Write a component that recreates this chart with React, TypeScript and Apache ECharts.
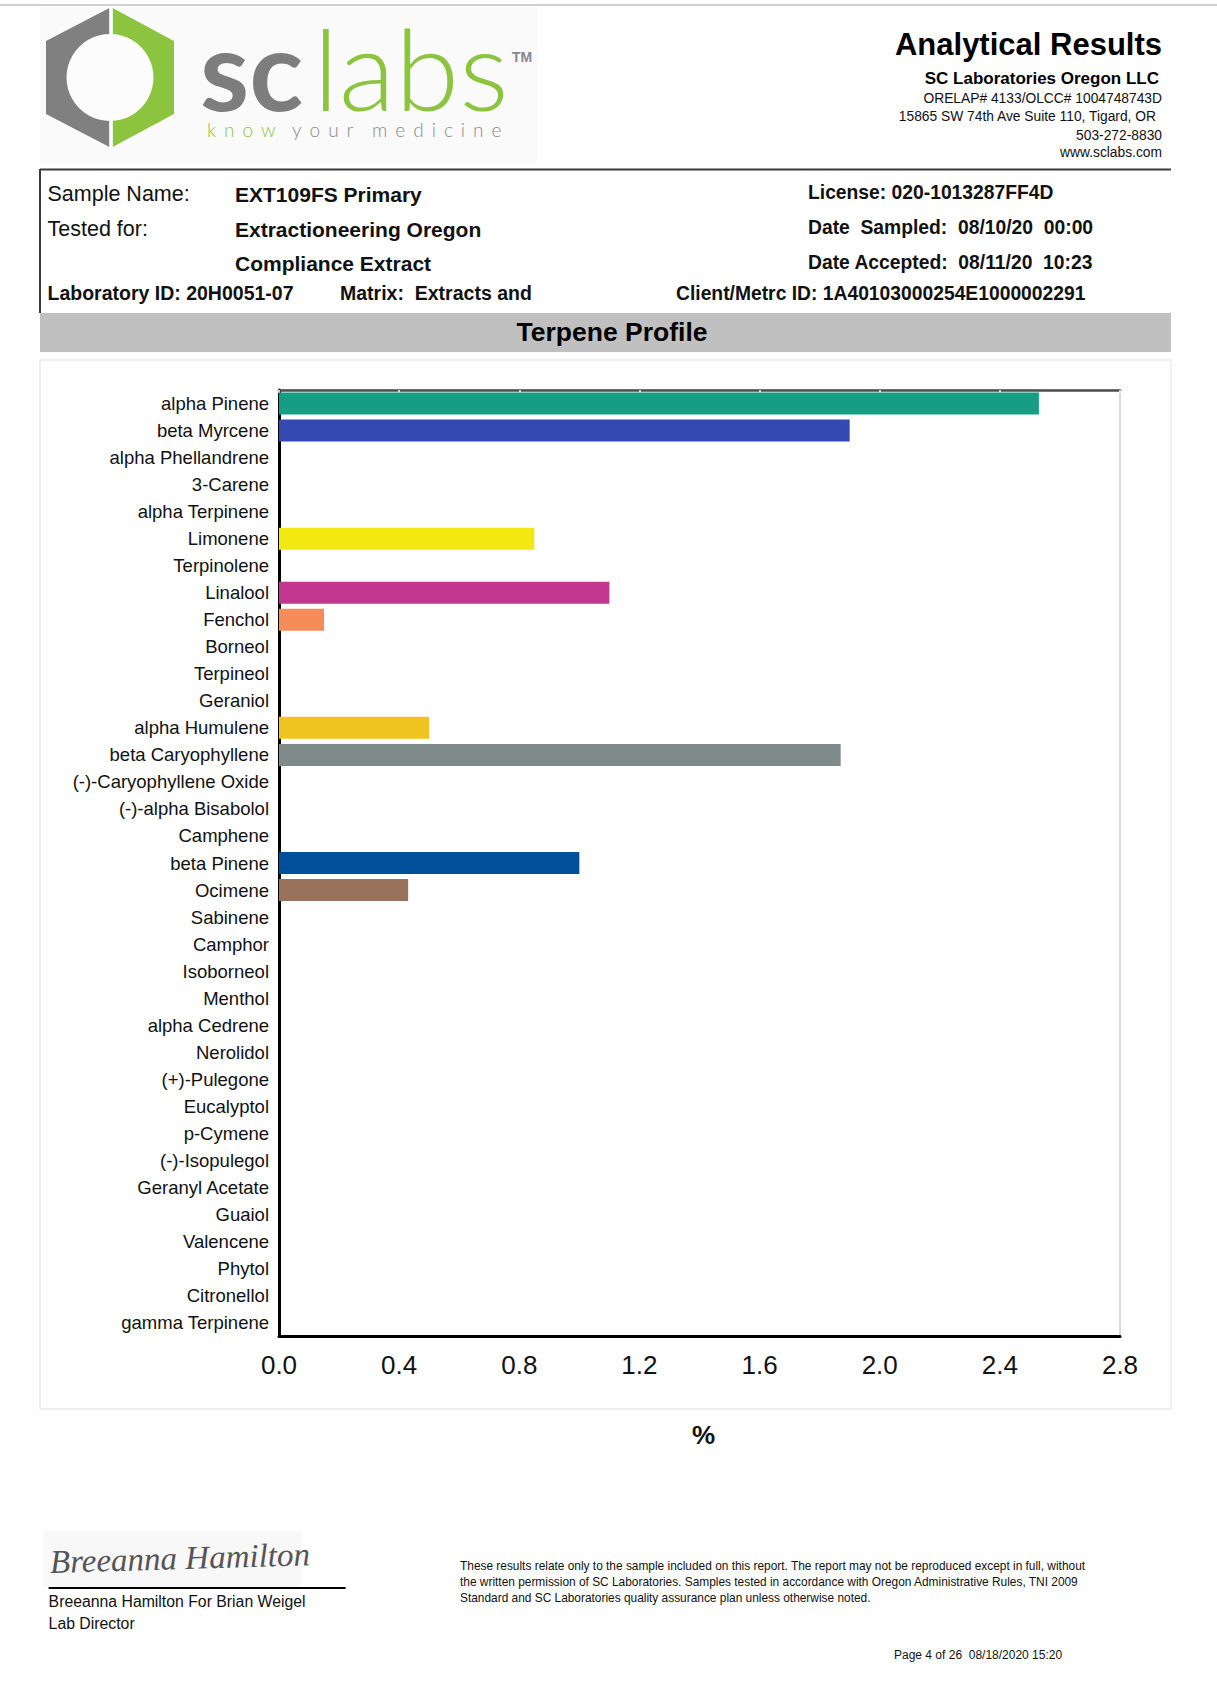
import React, { useEffect, useRef } from "react";
import * as echarts from "echarts";

// ---------- DATA ----------
const categories = [
  "alpha Pinene", "beta Myrcene", "alpha Phellandrene", "3-Carene", "alpha Terpinene",
  "Limonene", "Terpinolene", "Linalool", "Fenchol", "Borneol", "Terpineol", "Geraniol",
  "alpha Humulene", "beta Caryophyllene", "(-)-Caryophyllene Oxide", "(-)-alpha Bisabolol",
  "Camphene", "beta Pinene", "Ocimene", "Sabinene", "Camphor", "Isoborneol", "Menthol",
  "alpha Cedrene", "Nerolidol", "(+)-Pulegone", "Eucalyptol", "p-Cymene", "(-)-Isopulegol",
  "Geranyl Acetate", "Guaiol", "Valencene", "Phytol", "Citronellol", "gamma Terpinene",
];
const values = [
  2.53, 1.90, 0, 0, 0,
  0.85, 0, 1.10, 0.15, 0, 0, 0,
  0.50, 1.87, 0, 0,
  0, 1.00, 0.43, 0, 0, 0, 0,
  0, 0, 0, 0, 0, 0,
  0, 0, 0, 0, 0, 0,
];
const barColors = [
  "#169e84", "#3549b3", "#999", "#999", "#999",
  "#f3e80f", "#999", "#c43791", "#f58d5b", "#999", "#999", "#999",
  "#efc420", "#7f8a8b", "#999", "#999",
  "#999", "#004f9a", "#98725b", "#999", "#999", "#999", "#999",
  "#999", "#999", "#999", "#999", "#999", "#999",
  "#999", "#999", "#999", "#999", "#999", "#999",
];
const xMin = 0;
const xMax = 2.8;
const xInterval = 0.4;

const headerRight = [
  "ORELAP# 4133/OLCC# 1004748743D",
  "15865 SW 74th Ave Suite 110, Tigard, OR",
  "503-272-8830",
  "www.sclabs.com",
];
const disclaimer = [
  "These results relate only to the sample included on this report. The report may not be reproduced except in full, without",
  "the written permission of SC Laboratories. Samples tested in accordance with Oregon Administrative Rules, TNI 2009",
  "Standard and SC Laboratories quality assurance plan unless otherwise noted.",
];

const FONT = "Liberation Sans, Arial, sans-serif";

function txt(x: number, y: number, text: string, o: any = {}) {
  const align = o.align || "left";
  return {
    type: "text",
    x,
    y,
    z: 10,
    rotation: o.rotation || 0,
    scaleX: o.scaleX || 1,
    style: {
      text,
      fill: o.fill || "#111",
      fontSize: o.size || 14,
      fontWeight: o.weight || "normal",
      fontStyle: o.style || "normal",
      fontFamily: o.family || FONT,
      align,
      textAlign: align,
      verticalAlign: "middle",
      textVerticalAlign: "middle",
    },
  };
}

function spaced(str: string, x0: number, y: number, spacing: number, size: number, weight: string, family: string, fill: string) {
  const c = document.createElement("canvas").getContext("2d") as CanvasRenderingContext2D;
  c.font = `${weight} ${size}px ${family}`;
  const out: any[] = [];
  let x = x0;
  for (const ch of str) {
    out.push(txt(x, y, ch, { size, weight, family, fill }));
    x += c.measureText(ch).width + spacing;
  }
  return out;
}

export default function App() {
  const ref = useRef<HTMLDivElement>(null);

  useEffect(() => {
    document.body.style.margin = "0";
    document.body.style.overflow = "hidden";
    if (!ref.current) return;
    const chart = echarts.init(ref.current, null, { renderer: "svg" });

    const hexCx = 111;
    const graphics: any[] = [
      // top thin line
      { type: "line", z: 1, shape: { x1: 0, y1: 5, x2: 1217, y2: 5 }, style: { stroke: "#cfcfcf", lineWidth: 2 } },
      // logo background
      { type: "rect", z: 0, shape: { x: 40, y: 7, width: 497, height: 157 }, style: { fill: "#fafafa" } },
      // hexagon halves
      {
        type: "polygon", z: 2,
        shape: { points: [[hexCx - 1.6, 8], [46, 41], [46, 114], [hexCx - 1.6, 147]] },
        style: { fill: "#808080" },
      },
      {
        type: "polygon", z: 2,
        shape: { points: [[hexCx + 1.6, 8], [174, 41], [174, 114], [hexCx + 1.6, 147]] },
        style: { fill: "#8cc43f" },
      },
      { type: "circle", z: 3, shape: { cx: 110, cy: 77.5, r: 43.5 }, style: { fill: "#fcfcfc" } },
      { type: "rect", z: 3, shape: { x: hexCx - 1.6, y: 6, width: 3.2, height: 143 }, style: { fill: "#fcfcfc" } },
      txt(200, 67.7, "sc", { size: 112, weight: "bold", family: "Lato, sans-serif", fill: "#7d7d7d" }),
      txt(313, 67.7, "labs", { size: 112, weight: 300, family: "Lato, sans-serif", fill: "#8cc43f", scaleX: 1.04 }),
      txt(512, 57, "TM", { size: 14, weight: "bold", family: FONT, fill: "#888" }),
      ...spaced("know", 207, 129, 8, 19, "300", "Lato", "#8cc43f"),
      ...spaced("your", 292, 129, 8, 19, "300", "Lato", "#8a8a8a"),
      ...spaced("medicine", 372, 129, 8, 19, "300", "Lato", "#8a8a8a"),

      // header right
      txt(1162, 44, "Analytical Results", { size: 31, weight: "bold", align: "right", fill: "#000" }),
      txt(1159, 78, "SC Laboratories Oregon LLC", { size: 17, weight: "bold", align: "right", fill: "#000" }),
      txt(1162, 98, headerRight[0], { size: 13.8, align: "right" }),
      txt(1156, 116.5, headerRight[1], { size: 13.8, align: "right" }),
      txt(1162, 135, headerRight[2], { size: 13.8, align: "right" }),
      txt(1162, 152, headerRight[3], { size: 13.8, align: "right" }),

      // info box
      { type: "line", z: 5, shape: { x1: 40, y1: 169.5, x2: 1171, y2: 169.5 }, style: { stroke: "#3a3a3a", lineWidth: 2 } },
      { type: "line", z: 5, shape: { x1: 40, y1: 169, x2: 40, y2: 313 }, style: { stroke: "#3a3a3a", lineWidth: 2 } },
      txt(47.5, 194, "Sample Name:", { size: 21.5 }),
      txt(235, 194, "EXT109FS Primary", { size: 21, weight: "bold" }),
      txt(47.5, 229, "Tested for:", { size: 21.5 }),
      txt(235, 229, "Extractioneering Oregon", { size: 21, weight: "bold" }),
      txt(235, 263.5, "Compliance Extract", { size: 21, weight: "bold" }),
      txt(47.5, 293, "Laboratory ID: 20H0051-07", { size: 19.5, weight: "bold" }),
      txt(340, 293, "Matrix:  Extracts and", { size: 19.5, weight: "bold" }),
      txt(808, 192, "License: 020-1013287FF4D", { size: 19.3, weight: "bold" }),
      txt(808, 227.5, "Date  Sampled:  08/10/20  00:00", { size: 19.3, weight: "bold" }),
      txt(808, 262, "Date Accepted:  08/11/20  10:23", { size: 19.3, weight: "bold" }),
      txt(676, 293, "Client/Metrc ID: 1A40103000254E1000002291", { size: 19.3, weight: "bold" }),

      // section band
      { type: "rect", z: 1, shape: { x: 40, y: 313, width: 1131, height: 39 }, style: { fill: "#c0c0c0" } },
      txt(612, 332, "Terpene Profile", { size: 26.5, weight: "bold", align: "center", fill: "#000" }),

      // chart panel border
      { type: "rect", z: -1, shape: { x: 40, y: 360, width: 1131, height: 1049 }, style: { fill: "#fff", stroke: "#ececec", lineWidth: 1.5 } },

      // signature
      { type: "rect", z: 0, shape: { x: 43, y: 1531, width: 259, height: 56 }, style: { fill: "#f8f8f8" } },
      txt(50, 1562, "Breeanna Hamilton", { size: 33, style: "italic", family: "Liberation Serif, serif", fill: "#555", rotation: 0.03 }),
      { type: "line", z: 5, shape: { x1: 48.6, y1: 1588, x2: 345.6, y2: 1588 }, style: { stroke: "#000", lineWidth: 2 } },
      txt(48.6, 1601.5, "Breeanna Hamilton For Brian Weigel", { size: 15.8 }),
      txt(48.6, 1623, "Lab Director", { size: 15.8 }),
      txt(460, 1566, disclaimer[0], { size: 11.9 }),
      txt(460, 1582, disclaimer[1], { size: 11.9 }),
      txt(460, 1598, disclaimer[2], { size: 11.9 }),
      txt(894, 1654.5, "Page 4 of 26  08/18/2020 15:20", { size: 12 }),
    ];

    chart.setOption({
      animation: false,
      backgroundColor: "#fff",
      textStyle: { fontFamily: FONT },
      graphic: graphics,
      grid: {
        left: 279, top: 390, width: 841, height: 946,
        show: true, borderColor: "#dadada", borderWidth: 2, backgroundColor: "#fff",
        containLabel: false,
      },
      xAxis: [
        {
          type: "value", min: xMin, max: xMax, interval: xInterval, position: "bottom",
          axisLine: { show: true, lineStyle: { color: "#000", width: 3 } },
          axisTick: { show: false },
          splitLine: { show: false },
          axisLabel: {
            fontSize: 26, color: "#111", margin: 16, fontFamily: FONT,
            formatter: (v: number) => v.toFixed(1),
          },
          name: "%", nameLocation: "middle", nameGap: 86,
          nameTextStyle: { fontSize: 26, fontWeight: "bold", color: "#111", fontFamily: FONT, padding: [0, 0, 0, 8] },
        },
        {
          type: "value", min: xMin, max: xMax, interval: xInterval, position: "top",
          axisLine: { show: true, lineStyle: { color: "#4d4d4d", width: 2.5 } },
          axisTick: { show: true, inside: true, length: 3, lineStyle: { color: "#fff", width: 1.5 } },
          axisLabel: { show: false },
          splitLine: { show: false },
        },
      ],
      yAxis: {
        type: "category", data: categories, inverse: true,
        axisLine: { show: true, onZero: false, lineStyle: { color: "#000", width: 3 } },
        axisTick: { show: false },
        splitLine: { show: false },
        axisLabel: { fontSize: 18.5, color: "#111", margin: 10, interval: 0, fontFamily: FONT },
      },
      series: [
        {
          type: "bar", xAxisIndex: 0, barWidth: 22,
          data: values.map((v, i) => ({ value: v, itemStyle: { color: barColors[i] } })),
        },
      ],
    });

    return () => chart.dispose();
  }, []);

  return <div ref={ref} style={{ width: 1217, height: 1693 }} />;
}
